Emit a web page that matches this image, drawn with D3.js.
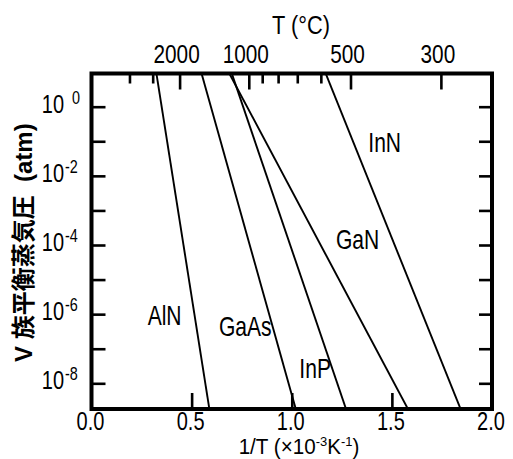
<!DOCTYPE html>
<html>
<head>
<meta charset="utf-8">
<script src="https://cdn.jsdelivr.net/npm/d3@7"></script>
<style>
  body { margin: 0; background: #fff; }
  svg { display: block; }
  text { font-family: "Liberation Sans", Arial, sans-serif; fill: #000; }
</style>
</head>
<body>
<svg id="chart" width="513" height="459"></svg>
<script>
// Equilibrium group-V vapour pressure of III-V compounds vs inverse temperature
const compounds = ["AlN", "GaAs", "InP", "GaN", "InN"];
// 1000/T (K^-1) at which each curve reaches the two end pressures below
const invTAtHighP = [0.3231, 0.5477, 0.6983, 0.6846, 1.1668];
const invTAtLowP  = [0.5956, 1.0326, 1.2861, 1.6039, 1.8610];
const endPressures = [1e1, 1e-9];            // atm
// where each compound name sits, in data units (1000/T, atm)
const nameInvT = [0.365, 0.768, 1.117, 1.329, 1.464];
const namePressure = [9.5e-7, 4.5e-7, 2.8e-8, 1.45e-4, 9.7e-2];

// bottom axis
const invTTicks = [0.5, 1.0, 1.5];
const invTLabels = [0.0, 0.5, 1.0, 1.5, 2.0];
// left axis (decades)
const pressureExponents = [0, -1, -2, -3, -4, -5, -6, -7, -8];
const labelledExponents = [0, -2, -4, -6, -8];
// top axis, temperature in °C
const tempMinorTicks = [5000, 3000, 900, 800, 700, 600];
const tempMajorTicks = [2000, 1000, 500, 300];

const svg = d3.select("#chart");
const plotL = 91.5, plotR = 492, plotT = 73.5, plotB = 409;

const x = d3.scaleLinear().domain([0, 2]).range([plotL, plotR]);
const y = d3.scaleLog().domain([Math.pow(10, -8.743), Math.pow(10, 0.96)]).range([plotB, plotT]);
const invT = c => 1000 / (c + 273.15);

const NARROW = 0.8;
function narrow(g, px, py, str, size, anchor, sx) {
  return g.append("text")
    .attr("transform", `translate(${px},${py}) scale(${sx || NARROW},1)`)
    .attr("text-anchor", anchor || "middle")
    .attr("font-size", size)
    .text(str);
}

// clip region for the curves
svg.append("clipPath").attr("id", "plotClip")
  .append("rect").attr("x", plotL).attr("y", plotT)
  .attr("width", plotR - plotL).attr("height", plotB - plotT);

// curves
const line = d3.line().x(d => x(d[0])).y(d => y(d[1]));
const curves = compounds.map((name, i) => ({
  name,
  pts: [[invTAtHighP[i], endPressures[0]], [invTAtLowP[i], endPressures[1]]]
}));
svg.append("g").attr("clip-path", "url(#plotClip)")
  .selectAll("path").data(curves).join("path")
  .attr("d", d => line(d.pts))
  .attr("fill", "none").attr("stroke", "#000").attr("stroke-width", 1.9);

// ticks via axes (labels drawn separately)
function tickAxis(axis) {
  return g => { g.call(axis); g.select(".domain").remove();
    g.selectAll(".tick line").attr("stroke", "#000").attr("stroke-width", 2.6); };
}
const decades = pressureExponents.map(e => Math.pow(10, e));
svg.append("g").attr("transform", `translate(${plotL},0)`)
  .call(tickAxis(d3.axisLeft(y).tickValues(decades).tickSize(-14).tickFormat("")));
svg.append("g").attr("transform", `translate(${plotR},0)`)
  .call(tickAxis(d3.axisRight(y).tickValues(decades).tickSize(-13).tickFormat("")));
svg.append("g").attr("transform", `translate(0,${plotB})`)
  .call(tickAxis(d3.axisBottom(x).tickValues(invTTicks).tickSize(-16).tickFormat("")));
svg.append("g").attr("transform", `translate(0,${plotT})`)
  .call(tickAxis(d3.axisTop(x).tickValues(tempMinorTicks.map(invT)).tickSize(-10).tickFormat("")));
svg.append("g").attr("transform", `translate(0,${plotT})`)
  .call(tickAxis(d3.axisTop(x).tickValues(tempMajorTicks.map(invT)).tickSize(-16).tickFormat("")));

// frame
svg.append("rect").attr("x", plotL).attr("y", plotT)
  .attr("width", plotR - plotL).attr("height", plotB - plotT)
  .attr("fill", "none").attr("stroke", "#000").attr("stroke-width", 4);

// bottom tick labels
invTLabels.forEach(v => narrow(svg, x(v) - 1, 430, d3.format(".1f")(v), 25));
// bottom title
const bt = svg.append("text")
  .attr("transform", `translate(299,454.3) scale(0.96,1)`)
  .attr("text-anchor", "middle").attr("font-size", 21.5);
bt.append("tspan").text("1/T (×10");
bt.append("tspan").attr("font-size", 13.5).attr("dy", -8).text("-3");
bt.append("tspan").attr("dy", 8).text("K");
bt.append("tspan").attr("font-size", 13.5).attr("dy", -8).text("-1");
bt.append("tspan").attr("dy", 8).text(")");

// top tick labels
tempMajorTicks.forEach(c => narrow(svg, x(invT(c)) - 3, 63, String(c), 26));
// top title
narrow(svg, 301, 34, "T (°C)", 25, "middle", 0.87);

// left tick labels: 10 with superscript exponent
labelledExponents.forEach(e => {
  const base = y(Math.pow(10, e)) + 6;
  narrow(svg, 64, base, "10", 25, "end");
  narrow(svg, e === 0 ? 72 : 65, base - 9, String(e), 18, "start");
});

// y-axis title
svg.append("text")
  .attr("transform", "translate(32,362) rotate(-90)")
  .attr("text-anchor", "start")
  .attr("font-size", 24).attr("font-weight", "bold")
  .style("font-family", '"Liberation Sans", "Noto Sans CJK JP", sans-serif')
  .attr("xml:space", "preserve")
  .text("V 族平衡蒸気圧  (atm)");

// compound names
compounds.forEach((name, i) => {
  narrow(svg, x(nameInvT[i]), y(namePressure[i]) + 10, name, 27, "middle", 0.78);
});
</script>
</body>
</html>
